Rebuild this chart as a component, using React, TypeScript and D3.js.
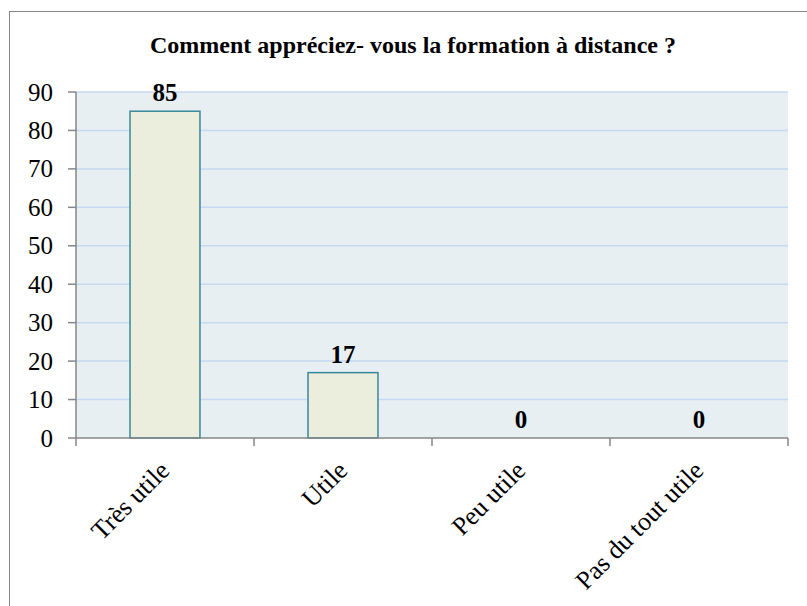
import * as d3 from 'd3';

const categories = ['Très utile', 'Utile', 'Peu utile', 'Pas du tout utile'];
const values = [85, 17, 0, 0];
const yTicks = [0, 10, 20, 30, 40, 50, 60, 70, 80, 90];
const title = 'Comment appréciez- vous la formation à distance ?';

const W = 807;
const H = 606;
const plot = { left: 76, right: 788, top: 92, bottom: 438 };
const serif = "'Liberation Serif', 'Times New Roman', 'DejaVu Serif', serif";

export default function App() {
  const x = d3
    .scaleBand()
    .domain(categories)
    .range([plot.left, plot.right])
    .paddingInner(0.607)
    .paddingOuter(0.3035);
  const y = d3.scaleLinear().domain([0, 90]).range([plot.bottom, plot.top]);
  const edges = d3.range(categories.length + 1).map((i) => plot.left + (i * (plot.right - plot.left)) / categories.length);

  return (
    <svg width={W} height={H} style={{ position: 'absolute', left: 0, top: 0, fontFamily: serif }}>
      <rect x={0} y={0} width={W} height={H} fill="#fff" />
      <rect x={9.5} y={11.5} width={812} height={620} fill="#fff" stroke="#868686" strokeWidth={1} />
      <text x={413} y={53} textAnchor="middle" fontSize={24} fontWeight="bold" fill="#000">
        {title}
      </text>

      <rect x={plot.left} y={plot.top} width={plot.right - plot.left} height={plot.bottom - plot.top} fill="#e8eff3" />
      {yTicks.filter((t) => t > 0).map((t) => (
        <line key={t} x1={plot.left} x2={plot.right} y1={y(t)} y2={y(t)} stroke="#c6d9f0" strokeWidth={1.5} />
      ))}

      {categories.map((c, i) => (
        <rect
          key={c}
          x={x(c)}
          y={y(values[i])}
          width={x.bandwidth()}
          height={y(0) - y(values[i])}
          fill="#ebeedd"
          stroke="#3a8799"
          strokeWidth={1.5}
        />
      ))}

      <line x1={plot.left} x2={plot.left} y1={plot.top} y2={plot.bottom} stroke="#868686" strokeWidth={1.5} />
      <line x1={plot.left} x2={plot.right} y1={plot.bottom} y2={plot.bottom} stroke="#868686" strokeWidth={1.5} />
      {yTicks.map((t) => (
        <g key={t}>
          <line x1={plot.left - 8} x2={plot.left} y1={y(t)} y2={y(t)} stroke="#868686" strokeWidth={1.5} />
          <text x={plot.left - 23} y={y(t)} dy="0.34em" textAnchor="end" fontSize={25} fill="#000">
            {t}
          </text>
        </g>
      ))}
      {edges.map((e) => (
        <line key={e} x1={e} x2={e} y1={plot.bottom} y2={plot.bottom + 8} stroke="#868686" strokeWidth={1.5} />
      ))}

      {categories.map((c, i) => (
        <text
          key={c}
          x={x(c)! + x.bandwidth() / 2}
          y={y(values[i]) - 10}
          textAnchor="middle"
          fontSize={25}
          fontWeight="bold"
          fill="#000"
        >
          {values[i]}
        </text>
      ))}

      {categories.map((c) => {
        const cx = x(c)! + x.bandwidth() / 2;
        return (
          <text
            key={c}
            transform={`translate(${cx + 6},${plot.bottom + 34}) rotate(-45)`}
            textAnchor="end"
            fontSize={26}
            fill="#000"
          >
            {c}
          </text>
        );
      })}
    </svg>
  );
}
